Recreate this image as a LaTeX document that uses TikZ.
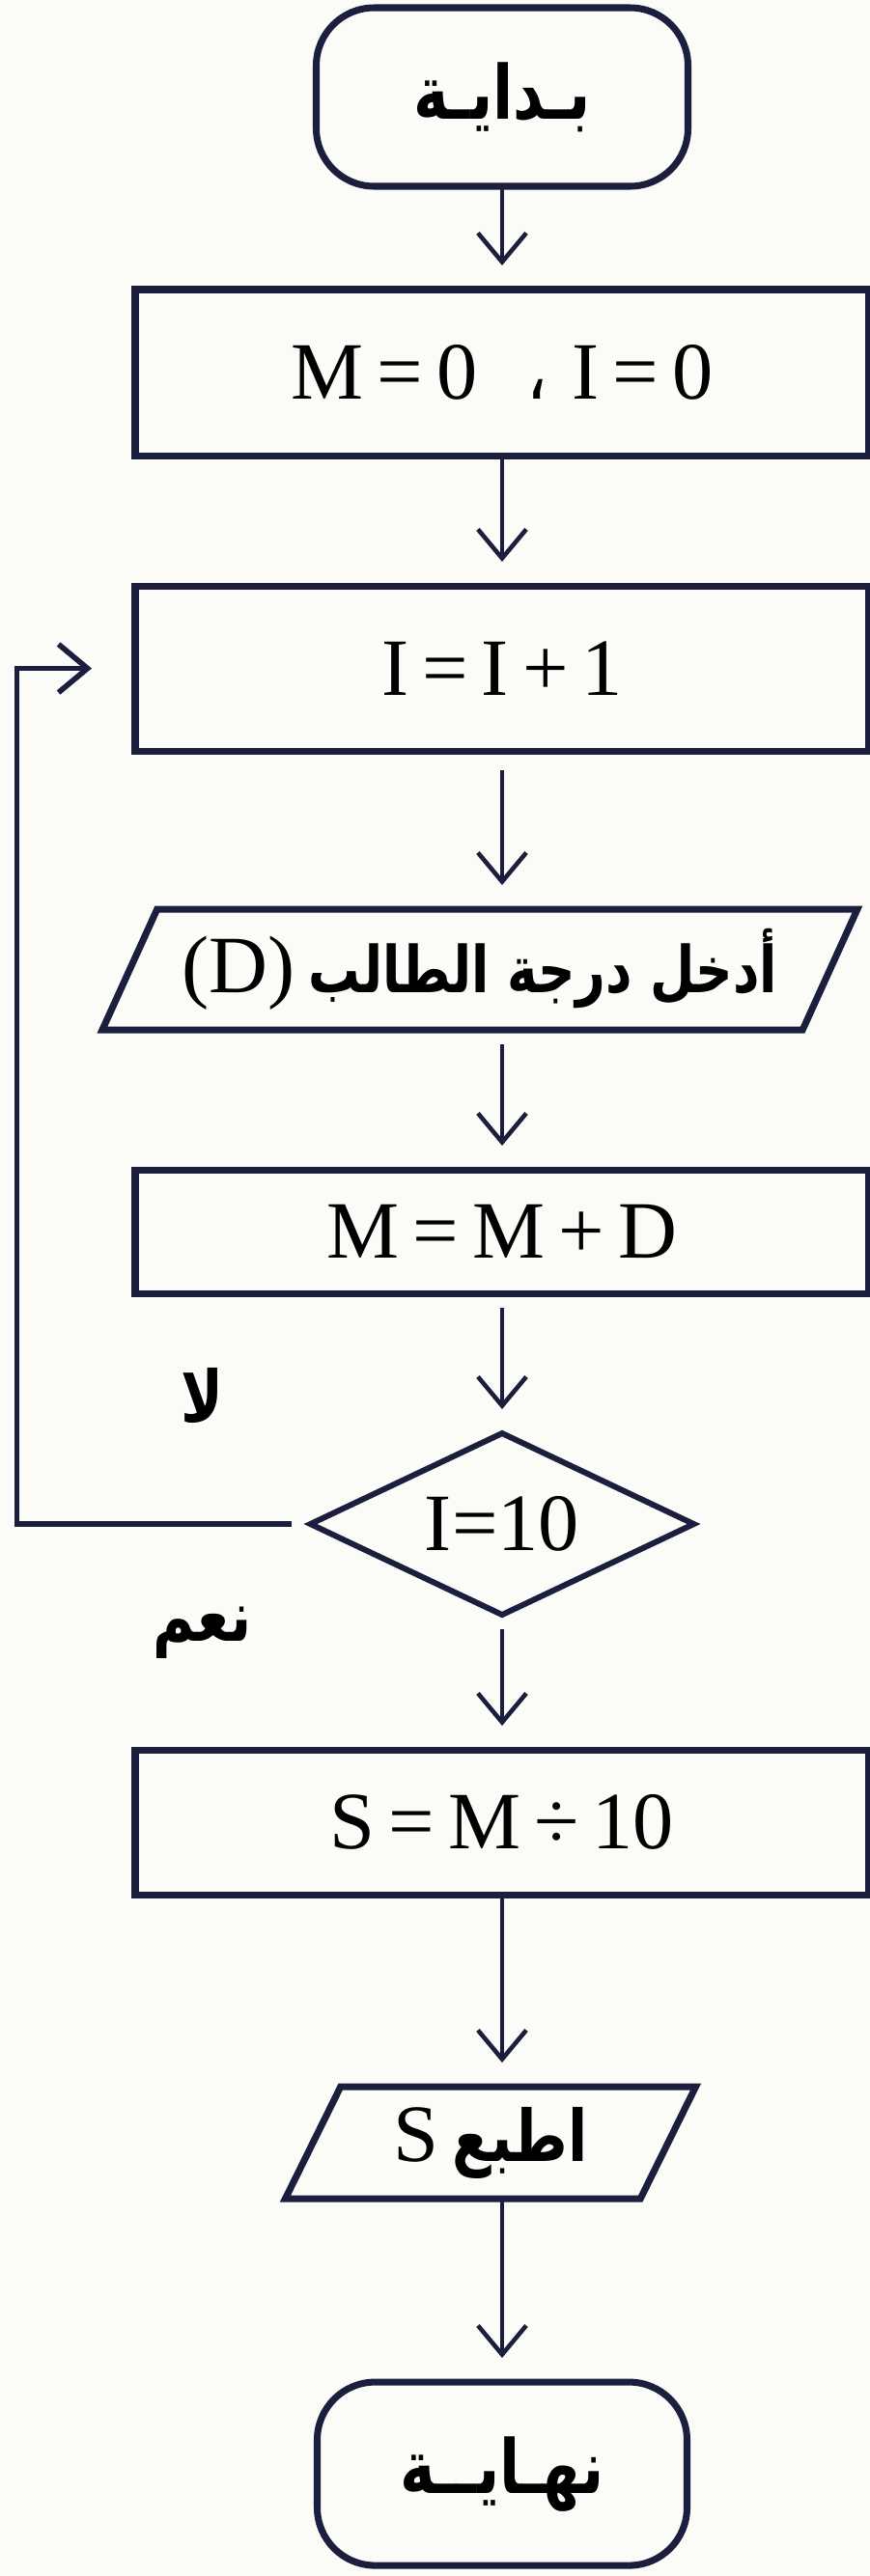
\documentclass[tikz,border=0pt]{standalone}
\usepackage{fontspec}
\setmainfont{Liberation Serif}
\newfontfamily\arabicfont[Script=Arabic, FakeStretch=0.8]{DejaVu Sans}
\TeXXeTstate=1
\usetikzlibrary{arrows.meta,positioning,shapes.geometric}
\definecolor{ink}{RGB}{28,30,62}
\definecolor{paper}{RGB}{251,251,248}
\newcommand{\artext}[1]{{\arabicfont\bfseries\beginR #1\endR}}

\begin{document}
\begin{tikzpicture}[node distance=14mm, >={Straight Barb[length=3mm,width=5mm]},
  every node/.style={font=\fontsize{24}{28}\selectfont, outer sep=0pt},
  box/.style={draw=ink, line width=2pt, minimum width=76mm, inner sep=2pt},
  term/.style={box, rounded corners=6mm, minimum width=38.5mm, minimum height=18.5mm},
  io/.style={draw=ink, line width=2pt, trapezium, trapezium left angle=60, trapezium right angle=120, trapezium stretches body, inner sep=2pt},
  decision/.style={draw=ink, line width=1.7pt, diamond, aspect=2.1, minimum width=39.7mm, minimum height=18.8mm, inner sep=0pt},
  flow/.style={->, draw=ink, line width=1.3pt, shorten >=2.5mm},
  answer/.style={font=\fontsize{21}{24}\selectfont}]
  \fill[paper] (0,0) rectangle (9.01,-26.69);
  \useasboundingbox (0,0) rectangle (9.01,-26.69);
  % boxes, top to bottom
  \node[term, font=\fontsize{22}{26}\selectfont] (start) at (5.2,-1.005) {\artext{بـدايـة}};
  \node[box, minimum height=17.2mm, below=10.7mm of start] (init) {M\,=\,0\hspace{0.6em}{\arabicfont ،}\hspace{0.3em}I\,=\,0};
  \node[box, minimum height=17.1mm, below=13.5mm of init] (inc) {I\,=\,I\,+\,1};
  \node[io, minimum width=78.2mm, minimum height=12.5mm, below=16.4mm of inc, xshift=-2.3mm] (read) {(D)\,{\fontsize{19}{22}\selectfont\artext{أدخل درجة الطالب}}};
  \node[box, minimum height=12.8mm, below=14.5mm of read, xshift=2.3mm] (sum) {M\,=\,M\,+\,D};
  \node[decision, below=14.5mm of sum] (check) {I=10};
  \node[box, minimum height=15mm, below=14mm of check] (avg) {S\,=\,M\,÷\,10};
  \node[io, trapezium left angle=57, trapezium right angle=123, minimum width=42.5mm, minimum height=11.6mm, below=19.9mm of avg, xshift=-1.2mm] (print) {S\,{\fontsize{21}{24}\selectfont\artext{اطبع}}};
  \node[term, font=\fontsize{22}{26}\selectfont, minimum height=19mm, minimum width=38.3mm, below=19mm of print, xshift=1.2mm] (stop) {\artext{نهـايــة}};
  % labels of the test
  \node[answer] (no) at ([xshift=-11.2mm, yshift=13.3mm]check.west) {\artext{لا}};
  \node[answer] (yes) at ([xshift=-11.2mm, yshift=-11.3mm]check.west) {\artext{نعم}};
  \coordinate (back) at ([xshift=-30.4mm]check.west);
  % connectors
  \draw[flow] (start) -- (init);
  \draw[flow] (init) -- (inc);
  \draw[flow, shorten <=2mm] (inc) -- (inc |- read.north);
  \draw[flow, shorten <=1.5mm] (read.south -| sum) -- (sum);
  \draw[flow, shorten <=1.5mm] (sum) -- (check);
  \draw[flow, shorten <=1.5mm] (check) -- (avg);
  \draw[flow] (avg) -- (avg |- print.north);
  \draw[flow] (print.south -| stop) -- (stop);
  \draw[flow, line width=1.6pt, shorten <=2mm, shorten >=4.5mm] (check.west) -- (back) |- (inc);
\end{tikzpicture}
\end{document}
